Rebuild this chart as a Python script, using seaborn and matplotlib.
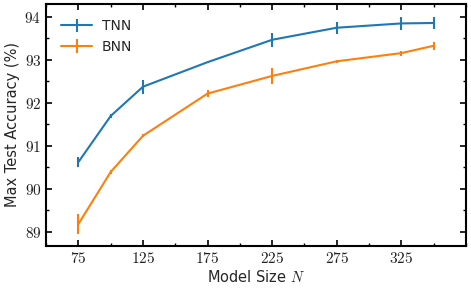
import matplotlib
matplotlib.use("Agg")
import matplotlib.pyplot as plt
import seaborn as sns
import numpy as np
from matplotlib.ticker import MultipleLocator, FixedLocator, FuncFormatter

sizes = [75, 100, 125, 175, 225, 275, 325, 350]
tnn_acc = [90.62, 91.69, 92.37, 92.94, 93.46, 93.74, 93.84, 93.85]
tnn_err = [0.12, 0.05, 0.16, 0.01, 0.16, 0.14, 0.15, 0.15]
bnn_acc = [89.18, 90.39, 91.23, 92.21, 92.62, 92.96, 93.15, 93.32]
bnn_err = [0.24, 0.04, 0.03, 0.08, 0.18, 0.03, 0.06, 0.09]
series_names = ["TNN", "BNN"]
xticks = [75, 125, 175, 225, 275, 325]
yticks = [89, 90, 91, 92, 93, 94]

sns.set_theme(style="ticks")
plt.rcParams["font.family"] = ["DejaVu Sans"]
plt.rcParams["mathtext.fontset"] = "cm"

pal = sns.color_palette("tab10")
fig = plt.figure(figsize=(4.71, 2.90), dpi=100)
ax = fig.add_axes([0.098, 0.152, 0.891, 0.834])

for name, acc, err, c in [(series_names[0], tnn_acc, tnn_err, pal[0]),
                          (series_names[1], bnn_acc, bnn_err, pal[1])]:
    ax.errorbar(sizes, acc, yerr=err, color=c, lw=1.5, elinewidth=1.5,
                capsize=0, label=name)

ax.set_xlim(50, 375)
ax.set_ylim(88.67, 94.29)
ax.xaxis.set_major_locator(FixedLocator(xticks))
ax.xaxis.set_minor_locator(MultipleLocator(25))
ax.yaxis.set_major_locator(FixedLocator(yticks))
ax.yaxis.set_minor_locator(MultipleLocator(0.5))
ax.xaxis.set_major_formatter(FuncFormatter(lambda v, p: r"$%d$" % v))
ax.yaxis.set_major_formatter(FuncFormatter(lambda v, p: r"$%d$" % v))
ax.tick_params(which="both", direction="in", top=True, right=True,
               labelsize=11, color="black", labelcolor="#222222")
ax.tick_params(which="major", length=4, width=1.2)
ax.tick_params(which="minor", length=2.5, width=1.0)
for s in ax.spines.values():
    s.set_linewidth(1.5)
    s.set_color("black")

ax.set_xlabel(r"Model Size $N$", fontsize=10.5, labelpad=2)
ax.set_ylabel("Max Test Accuracy (%)", fontsize=10.5, labelpad=3)
ax.legend(loc="upper left", frameon=False, fontsize=10, handlelength=2.2,
          borderaxespad=0.7, handletextpad=0.7)

fig.savefig("out.png", dpi=100)
